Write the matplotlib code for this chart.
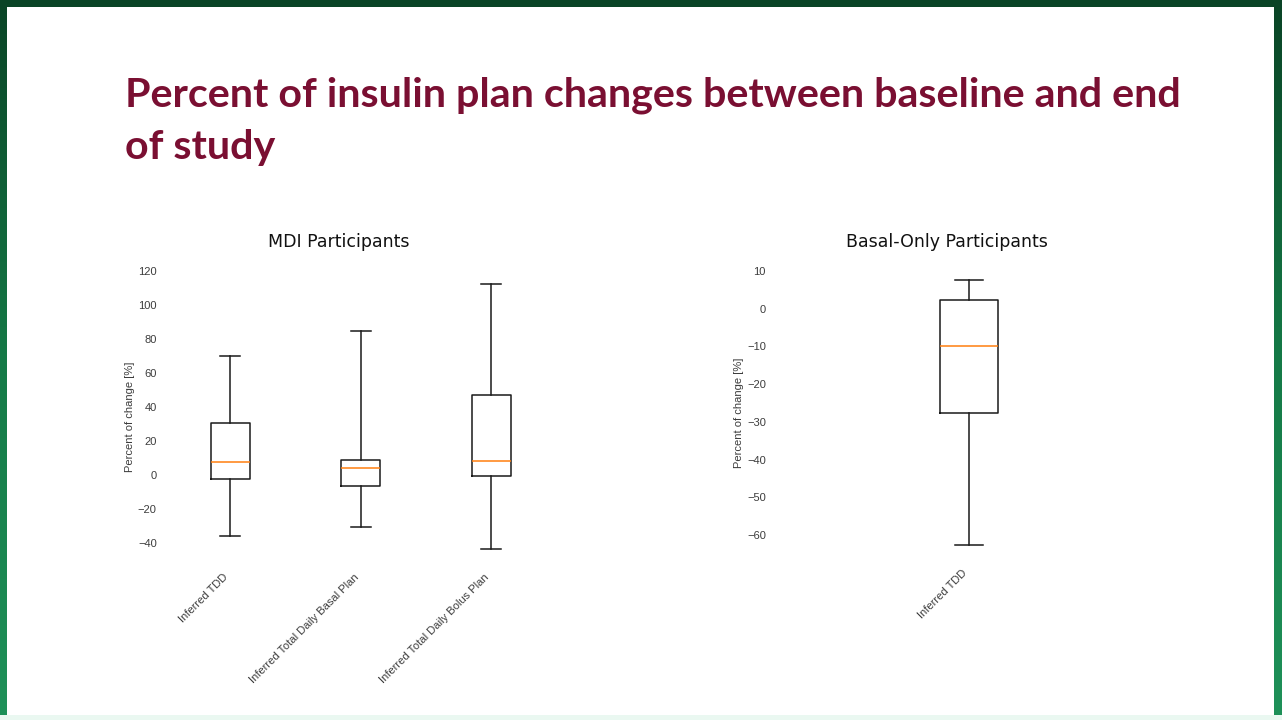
import numpy as np
import matplotlib
matplotlib.use("Agg")
import matplotlib.pyplot as plt
from matplotlib.colors import LinearSegmentedColormap
from matplotlib.patches import Rectangle

# --- data (percent change, baseline -> end of study)
mdi_labels = ["Inferred TDD", "Inferred Total Daily Basal Plan", "Inferred Total Daily Bolus Plan"]
mdi_whislo = [-36, -30.5, -43.5]
mdi_q1     = [-2.5, -6.3, -0.3]
mdi_med    = [7.6, 3.9, 8.2]
mdi_q3     = [30.8, 8.8, 46.9]
mdi_whishi = [69.8, 85, 112.5]

basal_labels = ["Inferred TDD"]
basal_whislo = [-62.6]
basal_q1     = [-27.6]
basal_med    = [-9.9]
basal_q3     = [2.2]
basal_whishi = [7.6]

W, H = 1282, 720
fig = plt.figure(figsize=(W / 100, H / 100), dpi=100)

# --- slide background: green gradient frame with white content area
bg = fig.add_axes([0, 0, 1, 1], zorder=-10)
bg.set_axis_off()
cmap = LinearSegmentedColormap.from_list("frame", ["#0a4426", "#157a47", "#1f9159"])
bg.imshow(np.linspace(0, 1, 256).reshape(-1, 1), aspect="auto", cmap=cmap,
          extent=[0, W, H, 0])
bg.set_xlim(0, W)
bg.set_ylim(H, 0)
bg.add_patch(Rectangle((7, 7), 1267, 708, facecolor="white", edgecolor="none"))
bg.add_patch(Rectangle((0, 715), W, 5, facecolor="#eaf8f1", edgecolor="none"))

# --- slide title
title_color = "#7a0f32"
t1 = fig.text(125 / W, 1 - 106.7 / H, "Percent of insulin plan changes between baseline and end",
              fontsize=30, fontweight="bold", family="Lato", color=title_color,
              ha="left", va="baseline")
fig.canvas.draw()
ext = t1.get_window_extent()
fs = 30 * 1056 / ext.width
t1.set_fontsize(fs)
fig.text(125 / W, 1 - 159 / H, "of study", fontsize=fs, fontweight="bold", family="Lato",
         color=title_color, ha="left", va="baseline")

# --- panel titles (slide text, not axes titles)
fig.text(339 / W, 1 - 242 / H, "MDI Participants", fontsize=12.5, family="DejaVu Sans",
         color="#111111", ha="center", va="center")
fig.text(947 / W, 1 - 242 / H, "Basal-Only Participants", fontsize=12.5, family="DejaVu Sans",
         color="#111111", ha="center", va="center")


def make_stats(labels, whislo, q1, med, q3, whishi):
    return [dict(label=l, whislo=a, q1=b, med=c, q3=d, whishi=e, fliers=[])
            for l, a, b, c, d, e in zip(labels, whislo, q1, med, q3, whishi)]


def style_axes(ax, pad):
    for s in ax.spines.values():
        s.set_visible(False)
    ax.tick_params(axis="both", length=0, labelsize=8, labelcolor="#3c3c3c")
    ax.tick_params(axis="y", pad=pad)
    ax.tick_params(axis="x", pad=7)
    ax.set_ylabel("Percent of change [%]", fontsize=8, color="#3c3c3c", labelpad=2,
                  family="Liberation Sans")
    for lbl in ax.get_xticklabels() + ax.get_yticklabels():
        lbl.set_family("Liberation Sans")
    for lbl in ax.get_xticklabels():
        lbl.set_rotation(45)
        lbl.set_ha("right")


box_kw = dict(showfliers=False, patch_artist=False,
              boxprops=dict(color="#1a1a1a", linewidth=1.1),
              whiskerprops=dict(color="#1a1a1a", linewidth=1.1),
              capprops=dict(color="#1a1a1a", linewidth=1.1),
              medianprops=dict(color="#ff7f0e", linewidth=1.1))

# --- MDI participants
ax1 = fig.add_axes([165 / W, 1 - 562.6 / H, 391.5 / W, 292.4 / H])
ax1.bxp(make_stats(mdi_labels, mdi_whislo, mdi_q1, mdi_med, mdi_q3, mdi_whishi), **box_kw)
ax1.set_xlim(0.5, 3.5)
ax1.set_ylim(-51.5, 120.5)
ax1.set_yticks([-40, -20, 0, 20, 40, 60, 80, 100, 120])
style_axes(ax1, pad=6)

# --- basal-only participants
ax2 = fig.add_axes([777 / W, 1 - 558 / H, 384 / W, 291.1 / H])
ax2.bxp(make_stats(basal_labels, basal_whislo, basal_q1, basal_med, basal_q3, basal_whishi),
        widths=0.15, **box_kw)
ax2.set_xlim(0.5, 1.5)
ax2.set_ylim(-66.1, 11.1)
ax2.set_yticks([-60, -50, -40, -30, -20, -10, 0, 10])
style_axes(ax2, pad=8)

fig.savefig("out.png", dpi=100)
